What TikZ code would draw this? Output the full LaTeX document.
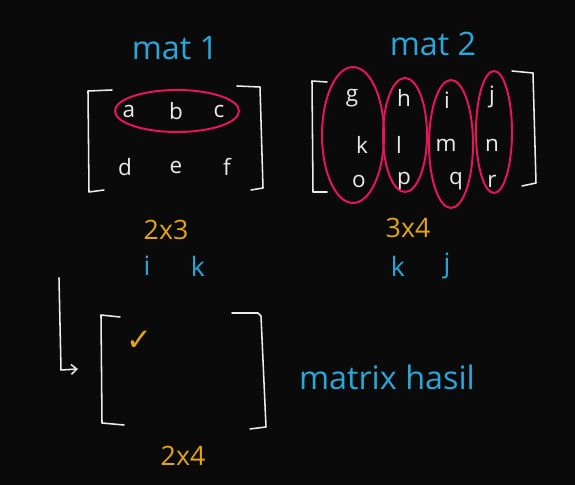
\documentclass[tikz,border=0pt]{standalone}
\usepackage{fontspec}
\setmainfont{Open Sans}
\newfontfamily\symfont{DejaVu Sans}
\usepackage{xcolor}
\usepackage{tikz}
\usetikzlibrary{arrows.meta}
\definecolor{bgdark}{HTML}{0A0A0A}
\definecolor{penwhite}{HTML}{ECECEC}
\definecolor{penblue}{HTML}{2AA6D9}
\definecolor{penorange}{HTML}{E6A413}
\definecolor{penred}{HTML}{E8145C}
\tikzset{
  entry/.style={text=penwhite, font=\fontsize{16}{16}\selectfont, inner sep=0pt},
  title/.style={text=penblue, font=\fontsize{23}{23}\selectfont, inner sep=0pt},
  index/.style={text=penblue, font=\fontsize{19}{19}\selectfont, inner sep=0pt},
  size/.style={text=penorange, font=\fontsize{19}{19}\selectfont, inner sep=0pt},
  brack/.style={penwhite, line width=1.1pt, line cap=round, line join=round},
  ring/.style={penred, line width=1.4pt}
}

\begin{document}
\begin{tikzpicture}[x=0.025cm, y=-0.025cm]
            \fill [bgdark] (0,0) rectangle (575,485);
            \useasboundingbox (0,0) rectangle (575,485);
            % mat 1
            \node [title] (t1) at (175,48) {mat 1};
            \draw [brack] (112,90) -- (88,91) -- (89,192) -- (104,190);
            \draw [brack] (237,86) -- (260,87) -- (263,188) -- (251,190);
            \node [entry] (a) at (129,111) {a};
            \node [entry] (b) at (176,111) {b};
            \node [entry] (c) at (219,111) {c};
            \node [entry] (d) at (125,167) {d};
            \node [entry] (e) at (176,167) {e};
            \node [entry] (f) at (227,167) {f};
            \draw [ring] (177,111) ellipse (62 and 21);
            \node [size] (s1) at (166,230) {2x3};
            \node [index] (i1) at (147,266) {i};
            \node [index] (k1) at (198,266) {k};
            % mat 2
            \node [title] (t2) at (433,44) {mat 2};
            \draw [brack] (327,82) -- (312,81) -- (313,192) -- (327,192);
            \draw [brack] (512,71) -- (533,73) -- (536,183) -- (522,186);
            \node [entry] (g) at (352,98) {g};
            \node [entry] (h) at (404,98) {h};
            \node [entry] (i) at (447,100) {i};
            \node [entry] (j) at (492,97) {j};
            \node [entry] (k) at (362,145) {k};
            \node [entry] (l) at (399,145) {l};
            \node [entry] (m) at (446,145) {m};
            \node [entry] (n) at (492,145) {n};
            \node [entry] (o) at (359,181) {o};
            \node [entry] (p) at (404,181) {p};
            \node [entry] (q) at (456,181) {q};
            \node [entry] (r) at (492,181) {r};
            \draw [ring] (353,135) ellipse (31 and 68);
            \draw [ring] (405,135) ellipse (22 and 57);
            \draw [ring] (451,144) ellipse (22 and 64);
            \draw [ring] (494,132) ellipse (18 and 61);
            \node [size] (s2) at (408,228) {3x4};
            \node [index] (k2) at (398,266) {k};
            \node [index] (j2) at (447,266) {j};
            % hasil
            \coordinate (top) at (59,278);
            \coordinate (bend) at (61,370);
            \coordinate (tip) at (78,369);
            \draw [brack, -{Straight Barb[length=4pt, width=7pt]}] (top) -- (bend) -- (tip);
            \draw [brack] (120,317) -- (101,315) -- (102,423) -- (124,425);
            \draw [brack] (232,313) -- (258,313) -- (261,316) -- (266,427) -- (250,429);
            \node [text=penorange, font=\symfont\fontsize{22}{22}\selectfont, inner sep=0pt] (ok) at (139,341) {✓};
            \node [size] (s3) at (183,456) {2x4};
            \node [title] (th) at (387,377) {matrix hasil};
        \end{tikzpicture}
\end{document}
